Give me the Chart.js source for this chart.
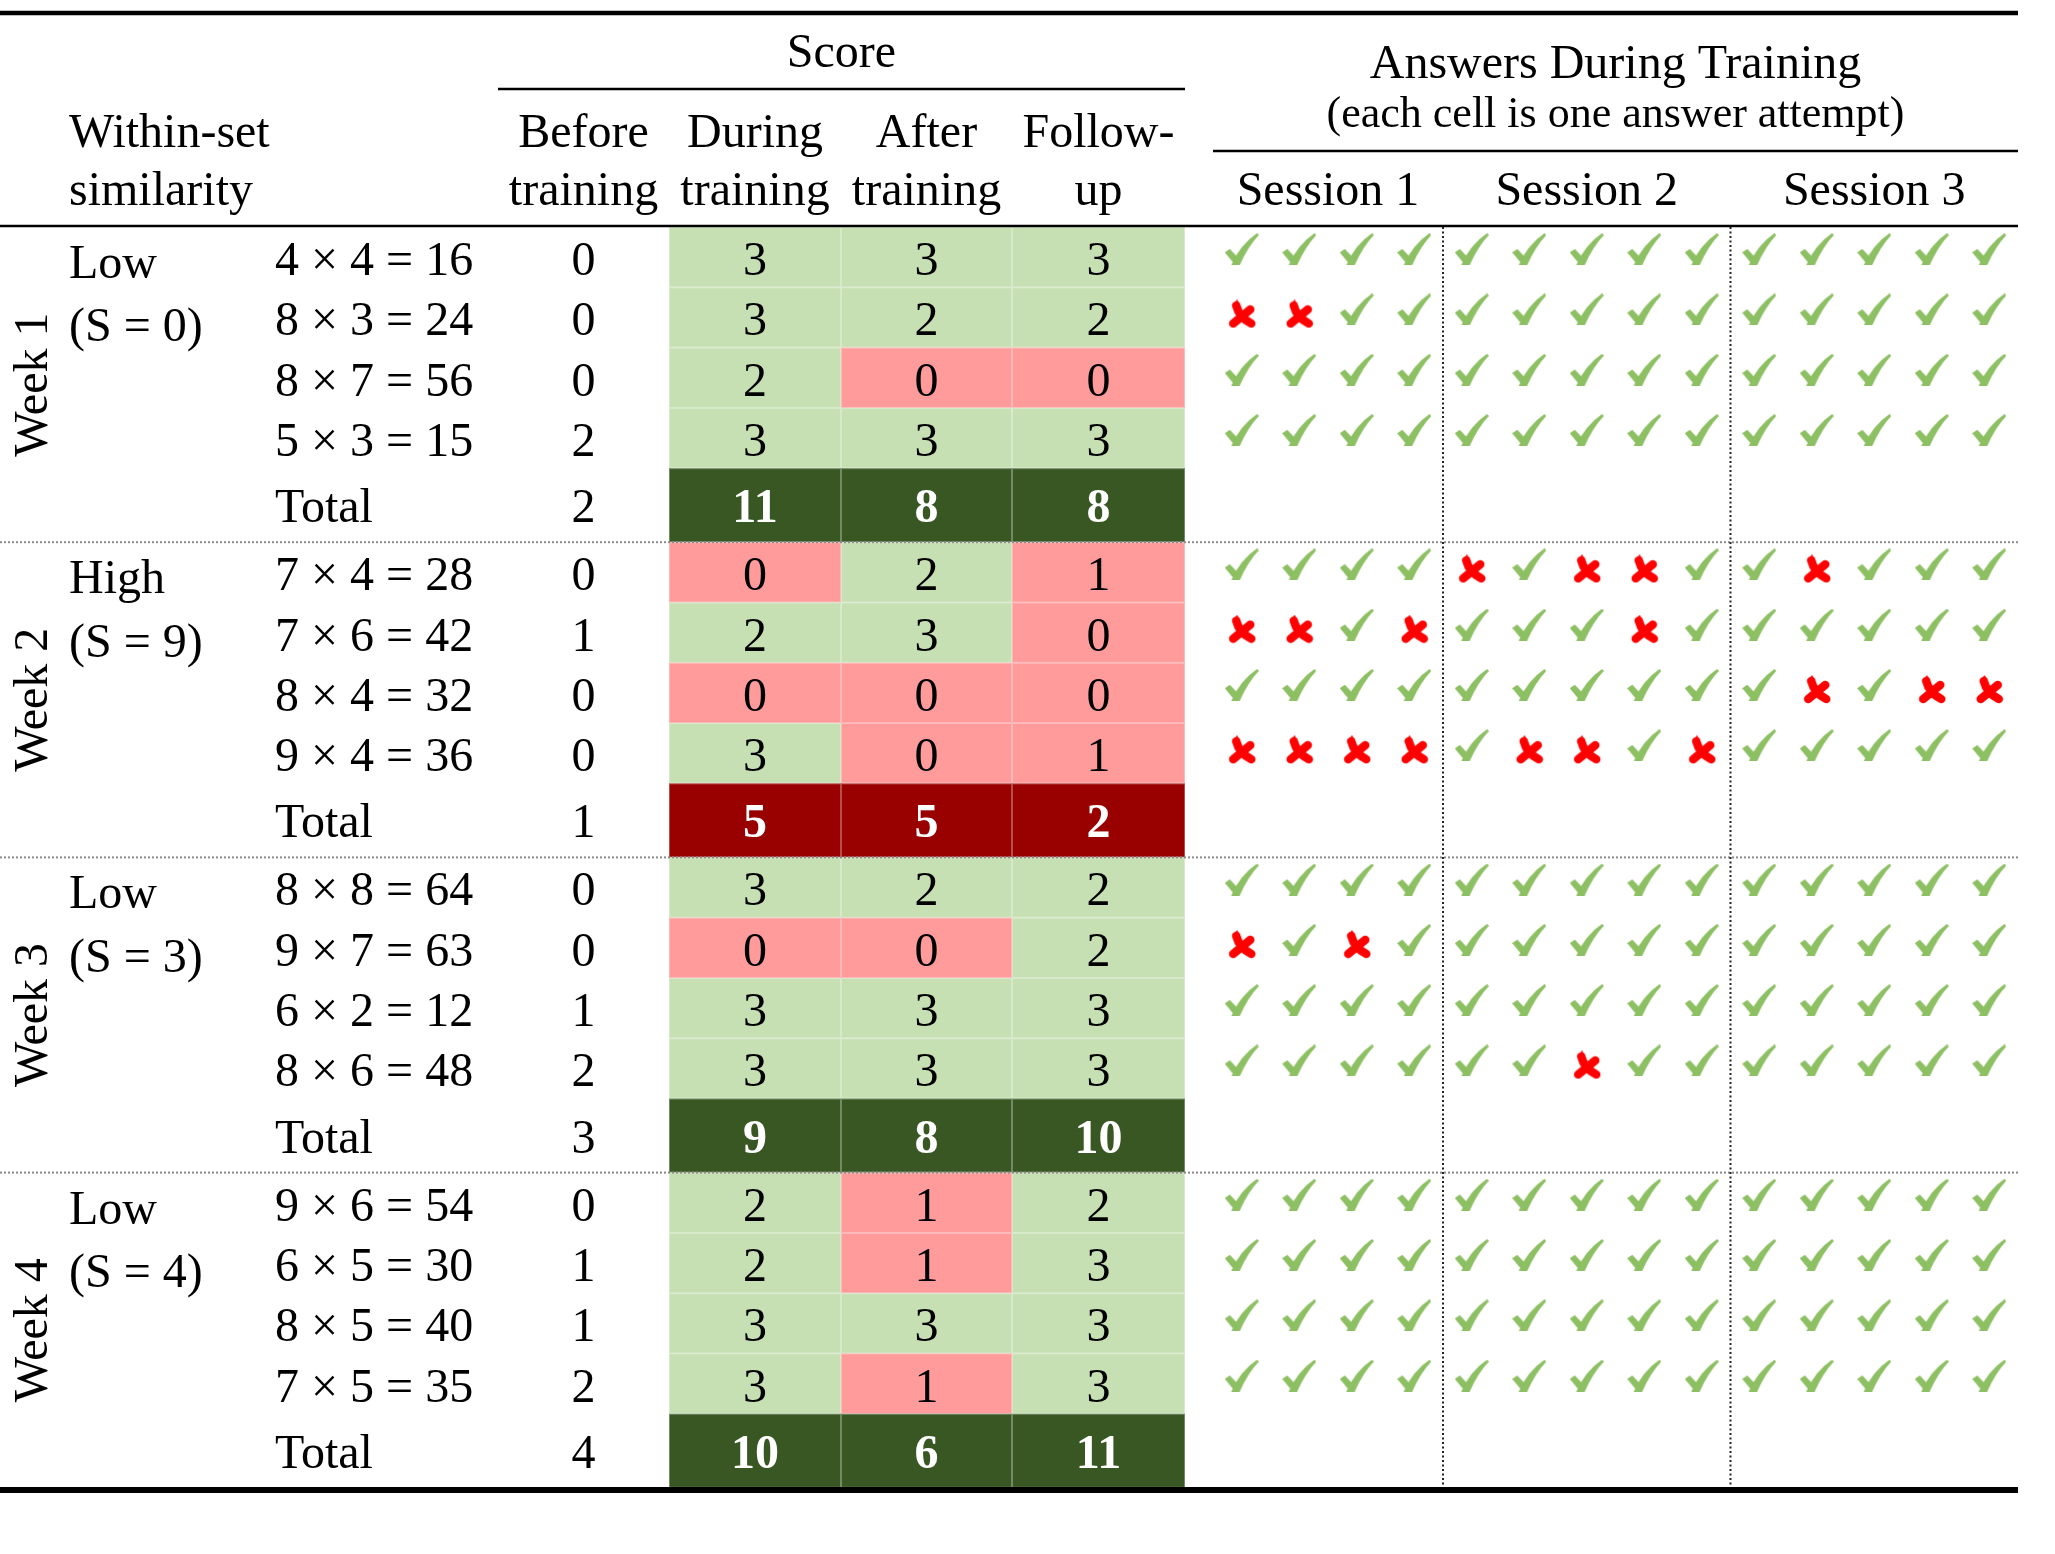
<!DOCTYPE html>
<html>
<head>
<meta charset="utf-8">
<title>Scores and answers during training</title>
<script src="https://cdn.jsdelivr.net/npm/chart.js@4.4.0/dist/chart.umd.min.js"></script>
<style>
  html, body { margin: 0; padding: 0; background: #fff; overflow: hidden; }
  canvas { display: block; }
</style>
</head>
<body>
<canvas id="table" width="2055" height="1554"></canvas>
<script>
// ---- data ----
const weeks = ['Week 1', 'Week 2', 'Week 3', 'Week 4'];
const similarityLevels = ['Low', 'High', 'Low', 'Low'];
const similarityScores = ['(S = 0)', '(S = 9)', '(S = 3)', '(S = 4)'];
const problems = [
    ['4 × 4 = 16', '8 × 3 = 24', '8 × 7 = 56', '5 × 3 = 15'],
    ['7 × 4 = 28', '7 × 6 = 42', '8 × 4 = 32', '9 × 4 = 36'],
    ['8 × 8 = 64', '9 × 7 = 63', '6 × 2 = 12', '8 × 6 = 48'],
    ['9 × 6 = 54', '6 × 5 = 30', '8 × 5 = 40', '7 × 5 = 35']
];
const scoreHeaders = [['Before', 'training'], ['During', 'training'], ['After', 'training'], ['Follow-', 'up']];
const beforeScores = [[0, 0, 0, 2], [0, 1, 0, 0], [0, 0, 1, 2], [0, 1, 1, 2]];
const duringScores = [[3, 3, 2, 3], [0, 2, 0, 3], [3, 0, 3, 3], [2, 2, 3, 3]];
const afterScores = [[3, 2, 0, 3], [2, 3, 0, 0], [2, 0, 3, 3], [1, 1, 3, 1]];
const followUpScores = [[3, 2, 0, 3], [1, 0, 0, 1], [2, 2, 3, 3], [2, 3, 3, 3]];
const beforeTotals = [2, 1, 3, 4];
const duringTotals = [11, 5, 9, 10];
const afterTotals = [8, 5, 8, 6];
const followUpTotals = [8, 2, 10, 11];
const sessionLabels = ['Session 1', 'Session 2', 'Session 3'];
// o = correct attempt, x = wrong attempt
const answers = [
    [['oooo', 'ooooo', 'ooooo'], ['xxoo', 'ooooo', 'ooooo'], ['oooo', 'ooooo', 'ooooo'], ['oooo', 'ooooo', 'ooooo']],
    [['oooo', 'xoxxo', 'oxooo'], ['xxox', 'oooxo', 'ooooo'], ['oooo', 'ooooo', 'oxoxx'], ['xxxx', 'oxxox', 'ooooo']],
    [['oooo', 'ooooo', 'ooooo'], ['xoxo', 'ooooo', 'ooooo'], ['oooo', 'ooooo', 'ooooo'], ['oooo', 'ooxoo', 'ooooo']],
    [['oooo', 'ooooo', 'ooooo'], ['oooo', 'ooooo', 'ooooo'], ['oooo', 'ooooo', 'ooooo'], ['oooo', 'ooooo', 'ooooo']]
];

// ---- layout (in scale units) ----
const FONT = '"Liberation Serif", "Times New Roman", serif';
const tableRight = 2018;
const bodyTop = 227;
const itemH = 60.3;
const totalH = 74;
const blockH = 4 * itemH + totalH;
const scoreEdges = [498, 669, 841, 1012, 1185];
const answersLeft = 1213;
const attemptW = 57.5;

const lightGreen = '#c6e0b4';
const lightRed = '#ff9b9b';
const darkGreen = '#385723';
const darkRed = '#990000';
const checkColor = '#8dbf63';
const crossColor = '#ff0000';

function rowTop(w, r) { return bodyTop + w * blockH + r * itemH; }
function totalTop(w) { return bodyTop + w * blockH + 4 * itemH; }

// brush-like tick used as the point style of correct answers
function makeCheck() {
    var c = document.createElement('canvas');
    c.width = 34; c.height = 32;
    var g = c.getContext('2d');
    var w = c.width, h = c.height;
    g.fillStyle = checkColor;
    // short left arm
    g.beginPath();
    g.moveTo(0.00 * w, 0.60 * h);
    g.lineTo(0.15 * w, 0.49 * h);
    g.lineTo(0.44 * w, 0.82 * h);
    g.lineTo(0.31 * w, 1.00 * h);
    g.closePath();
    g.fill();
    // long right arm, thick at the bottom, thin at the tip
    g.beginPath();
    g.moveTo(0.19 * w, 1.00 * h);
    g.quadraticCurveTo(0.45 * w, 0.36 * h, 0.95 * w, 0.0);
    g.lineTo(1.0 * w, 0.06 * h);
    g.quadraticCurveTo(0.67 * w, 0.43 * h, 0.44 * w, 1.0 * h);
    g.closePath();
    g.fill();
    return c;
}

// heavy cross used as the point style of wrong answers
function makeCross() {
    var c = document.createElement('canvas');
    c.width = 29; c.height = 29;
    var g = c.getContext('2d');
    g.strokeStyle = crossColor;
    g.fillStyle = crossColor;
    g.lineCap = 'round';
    g.lineWidth = 8.5;
    g.beginPath();
    g.moveTo(9, 6);
    g.quadraticCurveTo(12, 18, 24, 24);
    g.moveTo(23, 10);
    g.lineTo(6, 24);
    g.stroke();
    g.beginPath();
    g.moveTo(5, 6);
    g.lineTo(10, 0);
    g.lineTo(13, 7);
    g.closePath();
    g.fill();
    return c;
}

var correctPoints = [];
var wrongPoints = [];
answers.forEach((weekRows, w) => {
    weekRows.forEach((sessions, r) => {
        var col = 0;
        sessions.forEach((attempts) => {
            for (var a = 0; a < attempts.length; a++) {
                var cx = answersLeft + (col + 0.5) * attemptW;
                var cy = rowTop(w, r) + itemH / 2;
                if (attempts[a] === 'o') {
                    correctPoints.push({x: cx, y: cy - 8});
                } else {
                    wrongPoints.push({x: cx, y: cy - 3.5});
                }
                col++;
            }
        });
    });
});

const tablePlugin = {
    id: 'scoreTable',
    beforeDatasetsDraw(chart) {
        var ctx = chart.ctx;
        var xs = chart.scales.x, ys = chart.scales.y;
        var px = v => xs.getPixelForValue(v);
        var py = v => ys.getPixelForValue(v);

        function rect(x0, y0, x1, y1, color) {
            ctx.fillStyle = color;
            ctx.fillRect(px(x0), py(y0), px(x1) - px(x0), py(y1) - py(y0));
            ctx.strokeStyle = 'rgba(255,255,255,0.3)';
            ctx.lineWidth = 1;
            ctx.strokeRect(px(x0) + 0.5, py(y0) + 0.5, px(x1) - px(x0) - 1, py(y1) - py(y0) - 1);
        }
        function hline(x0, x1, yv, width, color, dash) {
            ctx.save();
            ctx.strokeStyle = color;
            ctx.lineWidth = width;
            ctx.setLineDash(dash || []);
            ctx.beginPath();
            ctx.moveTo(px(x0), py(yv));
            ctx.lineTo(px(x1), py(yv));
            ctx.stroke();
            ctx.restore();
        }
        function vline(xv, y0, y1, width, color, dash) {
            ctx.save();
            ctx.strokeStyle = color;
            ctx.lineWidth = width;
            ctx.setLineDash(dash || []);
            ctx.beginPath();
            ctx.moveTo(px(xv), py(y0));
            ctx.lineTo(px(xv), py(y1));
            ctx.stroke();
            ctx.restore();
        }
        function text(str, xv, yv, align, opts) {
            opts = opts || {};
            ctx.font = (opts.bold ? 'bold ' : '') + (opts.size || 48) + 'px ' + FONT;
            ctx.fillStyle = opts.color || '#000';
            ctx.textAlign = align;
            ctx.textBaseline = 'alphabetic';
            ctx.fillText(str, px(xv), py(yv));
        }

        ctx.save();

        // coloured score cells
        var scoreSets = [duringScores, afterScores, followUpScores];
        var totalSets = [duringTotals, afterTotals, followUpTotals];
        weeks.forEach((wk, w) => {
            for (var r = 0; r < 4; r++) {
                scoreSets.forEach((set, c) => {
                    rect(scoreEdges[c + 1], rowTop(w, r), scoreEdges[c + 2], rowTop(w, r + 1),
                        set[w][r] >= 2 ? lightGreen : lightRed);
                });
            }
            totalSets.forEach((set, c) => {
                rect(scoreEdges[c + 1], totalTop(w), scoreEdges[c + 2], totalTop(w) + totalH,
                    set[w] >= 6 ? darkGreen : darkRed);
            });
        });

        // rules
        hline(0, tableRight, 13, 4.5, '#000');
        hline(scoreEdges[0], scoreEdges[4], 89, 2.5, '#000');
        hline(answersLeft, tableRight, 151, 2.5, '#000');
        hline(0, tableRight, 226, 2.5, '#000');
        hline(0, tableRight, 1490, 6, '#000');
        for (var w = 1; w < weeks.length; w++) {
            hline(0, tableRight, bodyTop + w * blockH, 2, '#8a8a8a', [2, 2]);
        }
        var col = 0;
        sessionLabels.forEach((s, i) => {
            var n = answers[0][0][i].length;
            var left = answersLeft + col * attemptW;
            var right = left + n * attemptW;
            text(s, (left + right) / 2, 205, 'center');
            if (i < sessionLabels.length - 1) {
                vline(right, 227, 1487, 2, '#222', [2, 2.5]);
            }
            col += n;
        });

        // header
        text('Score', (scoreEdges[0] + scoreEdges[4]) / 2, 67, 'center');
        text('Answers During Training', (answersLeft + tableRight) / 2, 78, 'center');
        text('(each cell is one answer attempt)', (answersLeft + tableRight) / 2, 127, 'center', {size: 44});
        text('Within-set', 69, 147, 'left');
        text('similarity', 69, 205, 'left');
        scoreHeaders.forEach((lines, c) => {
            var cx = (scoreEdges[c] + scoreEdges[c + 1]) / 2;
            text(lines[0], cx, 147, 'center');
            text(lines[1], cx, 205, 'center');
        });

        // body
        weeks.forEach((wk, w) => {
            ctx.save();
            ctx.translate(px(47), py(bodyTop + w * blockH + blockH / 2));
            ctx.rotate(-Math.PI / 2);
            ctx.font = '48px ' + FONT;
            ctx.fillStyle = '#000';
            ctx.textAlign = 'center';
            ctx.textBaseline = 'alphabetic';
            ctx.fillText(wk, 0, 0);
            ctx.restore();

            text(similarityLevels[w], 69, rowTop(w, 0) + 51, 'left');
            text(similarityScores[w], 69, rowTop(w, 1) + 54, 'left');

            for (var r = 0; r < 4; r++) {
                var base = rowTop(w, r) + 48;
                text(problems[w][r], 275, base, 'left');
                [beforeScores, duringScores, afterScores, followUpScores].forEach((set, c) => {
                    text(String(set[w][r]), (scoreEdges[c] + scoreEdges[c + 1]) / 2, base, 'center');
                });
            }
            var tb = totalTop(w) + 54;
            text('Total', 275, tb, 'left');
            text(String(beforeTotals[w]), (scoreEdges[0] + scoreEdges[1]) / 2, tb, 'center');
            totalSets.forEach((set, c) => {
                text(String(set[w]), (scoreEdges[c + 1] + scoreEdges[c + 2]) / 2, tb, 'center',
                    {bold: true, color: '#fff'});
            });
        });

        ctx.restore();
    }
};

var tableContext = document.getElementById('table').getContext('2d');
var tableChart = new Chart(tableContext, {
    type: 'scatter',
    data: {
        datasets: [{
            label: 'Correct answer',
            data: correctPoints,
            pointStyle: makeCheck(),
            pointRadius: 17,
            pointHoverRadius: 17
        }, {
            label: 'Wrong answer',
            data: wrongPoints,
            pointStyle: makeCross(),
            pointRadius: 14,
            pointHoverRadius: 14
        }]
    },
    options: {
        responsive: false,
        animation: false,
        devicePixelRatio: 1,
        events: [],
        layout: {padding: 0, autoPadding: false},
        plugins: {legend: {display: false}, tooltip: {enabled: false}},
        scales: {
            x: {type: 'linear', min: 0, max: 2055, display: false},
            y: {type: 'linear', min: 0, max: 1554, reverse: true, display: false}
        }
    },
    plugins: [tablePlugin]
});
</script>
</body>
</html>
